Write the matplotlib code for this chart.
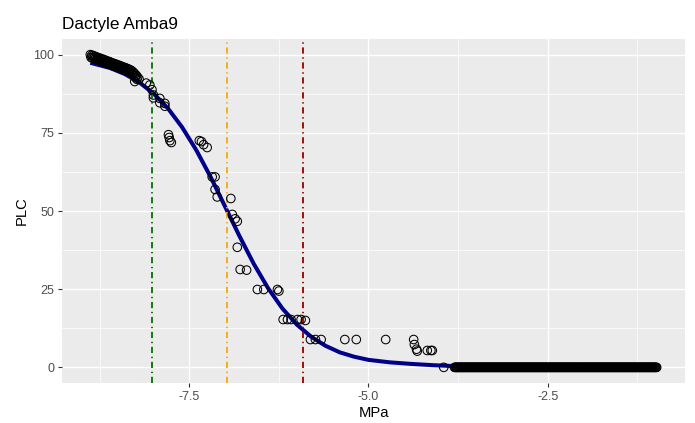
import matplotlib
matplotlib.use("Agg")
import matplotlib.pyplot as plt
from matplotlib.ticker import FixedLocator

plt.rcParams['font.family'] = ['Liberation Sans', 'DejaVu Sans']

# ---- data ----
title = "Dactyle Amba9"
x_label = "MPa"
y_label = "PLC"

# dense run of measurements near full embolism
top_mpa = [-8.88, -8.86, -8.84, -8.82, -8.80, -8.78, -8.76, -8.74, -8.72, -8.70,
           -8.68, -8.66, -8.64, -8.62, -8.60, -8.58, -8.56, -8.54, -8.52, -8.50,
           -8.48, -8.46, -8.44, -8.42, -8.40, -8.38, -8.36, -8.34, -8.32, -8.30,
           -8.28, -8.26, -8.24, -8.22, -8.20,
           -8.87, -8.85, -8.83, -8.81, -8.79, -8.77, -8.75, -8.73, -8.71, -8.69,
           -8.67, -8.65, -8.63, -8.61, -8.59, -8.57, -8.55, -8.53, -8.51, -8.49,
           -8.47, -8.45, -8.43, -8.41, -8.39, -8.37, -8.35, -8.33, -8.31, -8.29,
           -8.27, -8.25, -8.23]
top_plc = [100.0, 99.8, 99.7, 99.5, 99.3, 99.1, 99.0, 98.8, 98.6, 98.5,
           98.3, 98.1, 97.9, 97.8, 97.6, 97.4, 97.2, 97.1, 96.9, 96.7,
           96.6, 96.4, 96.2, 96.0, 95.9, 95.7, 95.5, 95.3, 95.1, 94.8,
           94.4, 93.9, 93.4, 92.8, 92.2,
           99.1, 98.9, 98.8, 98.6, 98.4, 98.2, 98.1, 97.9, 97.7, 97.6,
           97.4, 97.2, 97.0, 96.9, 96.7, 96.5, 96.3, 96.2, 96.0, 95.8,
           95.7, 95.5, 95.3, 95.1, 95.0, 94.8, 94.6, 94.4, 94.1, 93.7,
           93.2, 92.7, 92.1]

# individual measurements
mid_mpa = [-8.26, -8.10, -8.05, -8.02, -8.00, -8.00, -7.91, -7.91, -7.84, -7.84,
           -7.79, -7.78, -7.77, -7.75,
           -7.36, -7.33, -7.30, -7.25,
           -7.18, -7.14, -7.14, -7.11, -6.92, -6.90, -6.86, -6.83, -6.83, -6.79, -6.70,
           -6.55, -6.46, -6.27, -6.25,
           -6.19, -6.13, -6.08, -5.99, -5.94, -5.88,
           -5.81, -5.74, -5.66, -5.33, -5.17, -4.76, -4.37,
           -4.36, -4.33, -4.32, -4.18, -4.13, -4.11,
           -3.95]
mid_plc = [91.4, 90.9, 90.3, 88.8, 87.1, 86.2, 86.0, 84.6, 84.4, 83.5,
           74.4, 73.5, 72.5, 71.9,
           72.5, 72.2, 71.2, 70.3,
           60.9, 60.9, 56.9, 54.5, 54.0, 48.9, 47.5, 46.7, 38.4, 31.3, 31.1,
           24.9, 24.9, 24.9, 24.4,
           15.3, 15.3, 15.3, 15.3, 15.3, 15.0,
           8.9, 8.9, 8.9, 8.9, 8.9, 8.9, 8.9,
           7.3, 5.8, 5.2, 5.4, 5.4, 5.4,
           0.0]

# dense run of measurements with no embolism (PLC = 0)
zero_mpa = [-3.80, -3.79, -3.78, -3.77, -3.76, -3.75, -3.74, -3.73, -3.72, -3.71,
            -3.70, -3.69, -3.68, -3.67, -3.66, -3.65, -3.64, -3.63, -3.62, -3.61,
            -3.60, -3.59, -3.58, -3.57, -3.56, -3.55, -3.54, -3.53, -3.52, -3.51,
            -3.50, -3.49, -3.48, -3.47, -3.46, -3.45, -3.44, -3.43, -3.42, -3.41,
            -3.40, -3.39, -3.38, -3.37, -3.36, -3.35, -3.34, -3.33, -3.32, -3.31,
            -3.30, -3.29, -3.28, -3.27, -3.26, -3.25, -3.24, -3.23, -3.22, -3.21,
            -3.20, -3.19, -3.18, -3.17, -3.16, -3.15, -3.14, -3.13, -3.12, -3.11,
            -3.10, -3.09, -3.08, -3.07, -3.06, -3.05, -3.04, -3.03, -3.02, -3.01,
            -3.00, -2.99, -2.98, -2.97, -2.96, -2.95, -2.94, -2.93, -2.92, -2.91,
            -2.90, -2.89, -2.88, -2.87, -2.86, -2.85, -2.84, -2.83, -2.82, -2.81,
            -2.80, -2.79, -2.78, -2.77, -2.76, -2.75, -2.74, -2.73, -2.72, -2.71,
            -2.70, -2.69, -2.68, -2.67, -2.66, -2.65, -2.64, -2.63, -2.62, -2.61,
            -2.60, -2.59, -2.58, -2.57, -2.56, -2.55, -2.54, -2.53, -2.52, -2.51,
            -2.50, -2.49, -2.48, -2.47, -2.46, -2.45, -2.44, -2.43, -2.42, -2.41,
            -2.40, -2.39, -2.38, -2.37, -2.36, -2.35, -2.34, -2.33, -2.32, -2.31,
            -2.30, -2.29, -2.28, -2.27, -2.26, -2.25, -2.24, -2.23, -2.22, -2.21,
            -2.20, -2.19, -2.18, -2.17, -2.16, -2.15, -2.14, -2.13, -2.12, -2.11,
            -2.10, -2.09, -2.08, -2.07, -2.06, -2.05, -2.04, -2.03, -2.02, -2.01,
            -2.00, -1.99, -1.98, -1.97, -1.96, -1.95, -1.94, -1.93, -1.92, -1.91,
            -1.90, -1.89, -1.88, -1.87, -1.86, -1.85, -1.84, -1.83, -1.82, -1.81,
            -1.80, -1.79, -1.78, -1.77, -1.76, -1.75, -1.74, -1.73, -1.72, -1.71,
            -1.70, -1.69, -1.68, -1.67, -1.66, -1.65, -1.64, -1.63, -1.62, -1.61,
            -1.60, -1.59, -1.58, -1.57, -1.56, -1.55, -1.54, -1.53, -1.52, -1.51,
            -1.50, -1.49, -1.48, -1.47, -1.46, -1.45, -1.44, -1.43, -1.42, -1.41,
            -1.40, -1.39, -1.38, -1.37, -1.36, -1.35, -1.34, -1.33, -1.32, -1.31,
            -1.30, -1.29, -1.28, -1.27, -1.26, -1.25, -1.24, -1.23, -1.22, -1.21,
            -1.20, -1.19, -1.18, -1.17, -1.16, -1.15, -1.14, -1.13, -1.12, -1.11,
            -1.10, -1.09, -1.08, -1.07, -1.06, -1.05, -1.04, -1.03, -1.02, -1.01,
            -1.00, -0.99, -0.98]
zero_plc = [0.0] * len(zero_mpa)

# fitted vulnerability curve
fit_mpa = [-8.88, -8.6, -8.4, -8.2, -8.0, -7.8, -7.6, -7.4, -7.2, -7.0,
           -6.8, -6.6, -6.4, -6.2, -6.0, -5.8, -5.6, -5.4, -5.2, -5.0,
           -4.7, -4.4, -4.1, -3.8, -3.4, -3.0, -2.5, -2.0, -1.5, -0.98]
fit_plc = [97.4, 95.7, 93.8, 91.2, 87.6, 82.9, 76.8, 69.4, 60.8, 51.4,
           42.0, 33.1, 25.3, 18.8, 13.7, 9.8, 6.9, 4.8, 3.4, 2.4,
           1.6, 1.1, 0.7, 0.4, 0.2, 0.1, 0.0, 0.0, 0.0, 0.0]

# reference pressures (P88, P50, P12)
ref_mpa = [-8.02, -6.97, -5.92]
ref_colors = ["#0E7A0E", "#F5AE1A", "#A00E0E"]

x_ticks = [-7.5, -5.0, -2.5]
x_ticklabels = ["-7.5", "-5.0", "-2.5"]
x_minor = [-8.75, -6.25, -3.75, -1.25]
y_ticks = [0, 25, 50, 75, 100]
y_ticklabels = ["0", "25", "50", "75", "100"]
y_minor = [12.5, 37.5, 62.5, 87.5]

# ---- figure ----
W, H = 695, 423
fig = plt.figure(figsize=(W / 100, H / 100), dpi=100)
ax = fig.add_axes([62 / W, 1 - 383 / H, (685 - 62) / W, (383 - 39) / H])
ax.set_facecolor("#EBEBEB")
for s in ax.spines.values():
    s.set_visible(False)

all_x = top_mpa + mid_mpa + zero_mpa
xmin, xmax = min(all_x), max(all_x)
xr = xmax - xmin
ax.set_xlim(xmin - 0.05 * xr, xmax + 0.05 * xr)
ax.set_ylim(-5, 105)

ax.xaxis.set_major_locator(FixedLocator(x_ticks))
ax.xaxis.set_minor_locator(FixedLocator(x_minor))
ax.yaxis.set_major_locator(FixedLocator(y_ticks))
ax.yaxis.set_minor_locator(FixedLocator(y_minor))
ax.set_xticklabels(x_ticklabels)
ax.set_yticklabels(y_ticklabels)
ax.grid(which="major", color="white", linewidth=1.0)
ax.grid(which="minor", color="white", linewidth=0.5)
ax.set_axisbelow(True)
ax.tick_params(which="major", length=3.2, width=0.8, color="#333333",
               labelcolor="#4D4D4D", labelsize=9, pad=2.2)
ax.tick_params(which="minor", length=0)

# curve under the points
ax.plot(fit_mpa, fit_plc, color="#00008B", linewidth=2.9, solid_capstyle="butt", zorder=2)

for xv, c in zip(ref_mpa, ref_colors):
    ax.axvline(xv, color=c, linewidth=1.4, linestyle=(0, (3.2, 1.9, 0.7, 1.9)), zorder=2.5)

ax.scatter(top_mpa + mid_mpa + zero_mpa, top_plc + mid_plc + zero_plc,
           s=38, facecolors="none", edgecolors="black", linewidths=0.75, zorder=3)

ax.set_xlabel(x_label, fontsize=10.6, labelpad=2.5)
ax.set_ylabel(y_label, fontsize=10.6, labelpad=3.5)
ax.set_title(title, loc="left", fontsize=12.4, pad=7)

fig.savefig("out.png", dpi=100)
